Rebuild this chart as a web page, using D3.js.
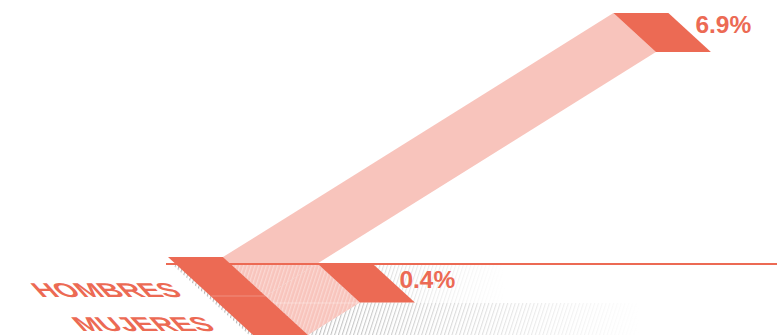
<!DOCTYPE html>
<html>
<head>
<meta charset="utf-8">
<script src="https://cdn.jsdelivr.net/npm/d3@7"></script>
<style>
  html, body { margin: 0; padding: 0; background: #fff; }
  svg { display: block; }
</style>
</head>
<body>
<script>
// Share by sex
const categories = ["HOMBRES", "MUJERES"];
const values = [6.9, 0.4];
const valueLabels = ["6.9%", "0.4%"];

const W = 777, H = 335;
const coral = "#ec6a54";
const pink = "#f8c4bc";

// Slanted "floor" geometry
const capW = 55, capH = 39, slant = 1.09;   // cap width, height, dx per dy
const originX = 168, originY = 257;         // top-left of first start cap
const horizonY = 264;
const runPerRise = 1.6;
const floorFadeEnd = [505, 640];

const rise = d3.scaleLinear()
  .domain([0, d3.max(values)])
  .range([19.4, 244]);

const svg = d3.select("body").append("svg")
  .attr("width", W).attr("height", H);
const defs = svg.append("defs");

// grey floor stripes
defs.append("pattern")
  .attr("id", "stripes")
  .attr("patternUnits", "userSpaceOnUse")
  .attr("width", 3.6).attr("height", 8)
  .attr("patternTransform", "rotate(18)")
  .append("rect")
  .attr("width", 1.1).attr("height", 8)
  .attr("fill", "#b5b5b5");

// light texture for ribbons lying on the floor
defs.append("pattern")
  .attr("id", "tex")
  .attr("patternUnits", "userSpaceOnUse")
  .attr("width", 3.6).attr("height", 8)
  .attr("patternTransform", "rotate(18)")
  .append("rect")
  .attr("width", 1.2).attr("height", 8)
  .attr("fill", "#fff").attr("fill-opacity", 0.35);

defs.append("clipPath").attr("id", "floorClip")
  .append("rect")
  .attr("x", 0).attr("y", horizonY).attr("width", W).attr("height", H - horizonY);

const bandLeft = y => originX + (y - originY) * slant;

// geometry for each row
const rows = categories.map((c, i) => {
  const x0 = originX + i * capH * slant;
  const y0 = originY + i * capH;
  const r = rise(values[i]);
  const ex = x0 + capW + r * runPerRise;
  const ey = y0 - r;
  return {
    cat: c, value: values[i], label: valueLabels[i], i,
    start: [[x0, y0], [x0 + capW, y0], [x0 + capW + capH * slant, y0 + capH], [x0 + capH * slant, y0 + capH]],
    ribbon: [[x0 + capW, y0], [ex, ey], [ex + capH * slant, ey + capH], [x0 + capW + capH * slant, y0 + capH]],
    end: [[ex, ey], [ex + capW, ey], [ex + capW + capH * slant, ey + capH], [ex + capH * slant, ey + capH]]
  };
});

const line = d3.line();
const poly = pts => line(pts) + "Z";

// floor rows with fading stripes
const floor = svg.append("g");
rows.forEach((d, i) => {
  const yt = horizonY + i * capH;
  const yb = Math.min(H, yt + capH);
  const xl = bandLeft(yt) - 4, xlb = bandLeft(yb) - 4;
  const xr = floorFadeEnd[i];
  const pts = [[xl, yt], [xr, yt], [xr, yb], [xlb, yb]];
  const gid = "fade" + i;
  const g = defs.append("linearGradient").attr("id", gid)
    .attr("gradientUnits", "userSpaceOnUse")
    .attr("x1", xl + 40).attr("x2", xr).attr("y1", 0).attr("y2", 0);
  g.append("stop").attr("offset", 0).attr("stop-color", "#fff").attr("stop-opacity", 0);
  g.append("stop").attr("offset", 1).attr("stop-color", "#fff").attr("stop-opacity", 1);
  floor.append("path").attr("d", poly(pts)).attr("fill", "url(#stripes)");
  floor.append("path").attr("d", poly(pts)).attr("fill", `url(#${gid})`);
});

// ribbons
const rib = svg.append("g");
rib.selectAll("path.ribbon").data(rows).join("path")
  .attr("class", "ribbon")
  .attr("d", d => poly(d.ribbon))
  .attr("fill", pink);
rib.append("g").attr("clip-path", "url(#floorClip)")
  .selectAll("path").data(rows).join("path")
  .attr("d", d => poly(d.ribbon))
  .attr("fill", "url(#tex)");

// seam between floor rows
svg.append("line")
  .attr("x1", bandLeft(horizonY + capH)).attr("x2", rows[1].end[3][0])
  .attr("y1", horizonY + capH).attr("y2", horizonY + capH)
  .attr("stroke", "#fff").attr("stroke-opacity", 0.35).attr("stroke-width", 1);

// caps
const caps = svg.append("g");
caps.selectAll("path.start").data(rows).join("path")
  .attr("class", "start")
  .attr("d", d => poly(d.start))
  .attr("fill", coral);
caps.selectAll("path.end").data(rows).join("path")
  .attr("class", "end")
  .attr("d", d => poly(d.end))
  .attr("fill", coral);
caps.selectAll("line.seam").data(rows.slice(1)).join("line")
  .attr("class", "seam")
  .attr("x1", d => d.start[0][0] + 1).attr("x2", d => d.start[1][0])
  .attr("y1", d => d.start[0][1]).attr("y2", d => d.start[0][1])
  .attr("stroke", "#fff").attr("stroke-opacity", 0.25).attr("stroke-width", 1);

// horizon
svg.append("line")
  .attr("x1", 166).attr("x2", W)
  .attr("y1", horizonY).attr("y2", horizonY)
  .attr("stroke", coral).attr("stroke-width", 2);

// value labels
svg.selectAll("text.val").data(rows).join("text")
  .attr("class", "val")
  .attr("x", d => d.end[1][0] + 27)
  .attr("y", d => d.end[0][1] + 20 + 4 * d.i)
  .attr("font-family", "'Liberation Sans', Arial, sans-serif")
  .attr("font-weight", "bold")
  .attr("font-size", 24.5)
  .attr("fill", coral)
  .text(d => d.label);

// category labels, laid on the floor
svg.selectAll("text.cat").data(rows).join("text")
  .attr("class", "cat")
  .attr("transform", d => {
    const by = originY + 40 + d.i * 34;
    const bx = originX + 16 + d.i * 33;
    return `translate(${bx},${by}) skewX(42) scale(1,0.72)`;
  })
  .attr("text-anchor", "end")
  .attr("font-family", "'Liberation Sans', Arial, sans-serif")
  .attr("font-weight", "bold")
  .attr("font-size", 28)
  .attr("fill", coral)
  .text(d => d.cat);
</script>
</body>
</html>
